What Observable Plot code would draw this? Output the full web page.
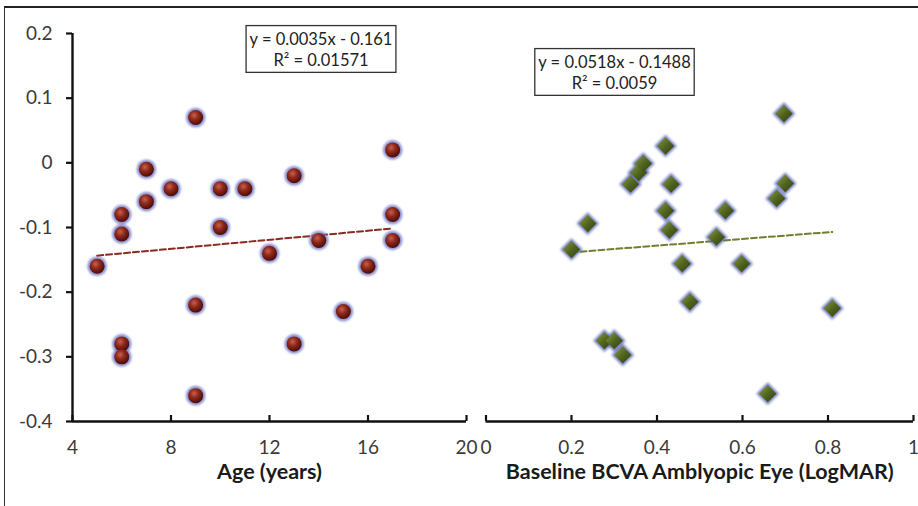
<!DOCTYPE html>
<html>
<head>
<meta charset="utf-8">
<script src="https://cdn.jsdelivr.net/npm/d3@7"></script>
<script src="https://cdn.jsdelivr.net/npm/@observablehq/plot@0.6"></script>
<style>
  html, body { margin: 0; padding: 0; background: #fff; }
  #wrap { position: relative; width: 918px; height: 506px; overflow: hidden; background: #fff; font-family: Lato, sans-serif; }
  #frame { position: absolute; left: 4px; top: 6px; right: -2px; bottom: -2px; border-top: 2px solid #222; border-left: 1px solid #333; pointer-events: none; }
  #left { position: absolute; left: 0; top: 0; }
  #right { position: absolute; left: 470px; top: 0; }
</style>
</head>
<body>
<div id="wrap">
  <div id="left"></div>
  <div id="right"></div>
  <div id="frame"></div>
</div>
<script>
// ---- data ----
const ages = [5, 6, 6, 6, 6, 7, 7, 8, 9, 9, 9, 10, 10, 11, 12, 13, 13, 14, 15, 16, 17, 17, 17];
const ageChange = [-0.16, -0.08, -0.11, -0.28, -0.30, -0.01, -0.06, -0.04, 0.07, -0.22, -0.36, -0.04, -0.10, -0.04, -0.14, -0.02, -0.28, -0.12, -0.23, -0.16, 0.02, -0.08, -0.12];

const bcva = [0.20, 0.238, 0.277, 0.30, 0.32, 0.338, 0.357, 0.368, 0.42, 0.42, 0.429, 0.433, 0.459, 0.477, 0.539, 0.56, 0.598, 0.659, 0.68, 0.697, 0.70, 0.81];
const bcvaChange = [-0.134, -0.094, -0.275, -0.275, -0.297, -0.033, -0.015, -0.001, 0.026, -0.074, -0.104, -0.033, -0.156, -0.215, -0.115, -0.074, -0.156, -0.357, -0.055, 0.076, -0.032, -0.225];

// trend lines (endpoints of the Excel linear trendlines)
const ageTrendX = [5, 17];
const ageTrendY = [-0.1435, -0.1015];
const bcvaTrendX = [0.20, 0.81];
const bcvaTrendY = [-0.1384, -0.1068];

const yDomain = [-0.4, 0.2];
const yTicks = [0.2, 0.1, 0, -0.1, -0.2, -0.3, -0.4];
const yTickLabels = ["0.2", "0.1", "0", "-0.1", "-0.2", "-0.3", "-0.4"];
const ageDomain = [4, 20];
const ageTicks = [4, 8, 12, 16, 20];
const ageTickLabels = ["4", "8", "12", "16", "20"];
const bcvaDomain = [0, 1];
const bcvaTicks = [0, 0.2, 0.4, 0.6, 0.8, 1];
const bcvaTickLabels = ["0", "0.2", "0.4", "0.6", "0.8", "1"];

const ageTitle = "Age (years)";
const bcvaTitle = "Baseline BCVA Amblyopic Eye (LogMAR)";
const ageEquation = ["y = 0.0035x - 0.161", "R\u00B2 = 0.01571"];
const bcvaEquation = ["y = 0.0518x - 0.1488", "R\u00B2 = 0.0059"];

// ---- helpers ----
const lab = (ticks, labels) => d => labels[ticks.indexOf(d)];
const ageData = ages.map((x, i) => ({x, y: ageChange[i]}));
const bcvaData = bcva.map((x, i) => ({x, y: bcvaChange[i]}));
const ageTrend = ageTrendX.map((x, i) => ({x, y: ageTrendY[i]}));
const bcvaTrend = bcvaTrendX.map((x, i) => ({x, y: bcvaTrendY[i]}));

const common = {
  height: 506,
  marginTop: 33,
  marginBottom: 85,
  style: {fontFamily: "Lato, sans-serif", color: "#111", background: "transparent", overflow: "visible"}
};

const tickFont = 19;

const leftPlot = Plot.plot({
  ...common,
  width: 470,
  marginLeft: 72,
  marginRight: 4,
  x: {domain: ageDomain},
  y: {domain: yDomain},
  marks: [
    Plot.axisY({ticks: yTicks, tickFormat: lab(yTicks, yTickLabels), tickSize: 6, tickPadding: 14, strokeWidth: 2.2, fontSize: tickFont, fill: "#3a3a3a", label: null}),
    Plot.axisX({ticks: ageTicks, tickFormat: lab(ageTicks, ageTickLabels), tickSize: -6, tickPadding: 25, strokeWidth: 2.2, fontSize: tickFont, fill: "#3a3a3a", label: null}),
    Plot.ruleX([ageDomain[0]], {y1: yDomain[0], y2: yDomain[1], strokeWidth: 2.4, stroke: "#111"}),
    Plot.ruleY([yDomain[0]], {x1: ageDomain[0], x2: ageDomain[1], strokeWidth: 2.4, stroke: "#111"}),
    Plot.line(ageTrend, {x: "x", y: "y", stroke: "#8b2a20", strokeWidth: 2, strokeDasharray: "6,3"}),
    Plot.dot(ageData, {x: "x", y: "y", r: 9.8, fill: "#6f78c8", fillOpacity: 0.8}),
    Plot.dot(ageData, {x: "x", y: "y", r: 7.5, fill: "url(#ballRed)"}),
    Plot.text([ageTitle], {frameAnchor: "bottom", dy: 57, fontSize: 21.5, fontWeight: "bold", fill: "#1a1a1a"}),
    Plot.text([ageEquation.join("\n")], {frameAnchor: "top-left", dx: 248.5, dy: 15, lineAnchor: "middle", fontSize: 16.5, lineHeight: 1.32, fill: "#222", textAnchor: "middle"})
  ]
});

const rightPlot = Plot.plot({
  ...common,
  width: 448,
  marginLeft: 15.5,
  marginRight: 5,
  x: {domain: bcvaDomain},
  y: {domain: yDomain, axis: null},
  marks: [
    Plot.axisX({ticks: bcvaTicks, tickFormat: lab(bcvaTicks, bcvaTickLabels), tickSize: -6, tickPadding: 25, strokeWidth: 2.2, fontSize: tickFont, fill: "#3a3a3a", label: null}),
    Plot.ruleY([yDomain[0]], {x1: bcvaDomain[0], x2: bcvaDomain[1], strokeWidth: 2.4, stroke: "#111"}),
    Plot.line(bcvaTrend, {x: "x", y: "y", stroke: "#6f7f2e", strokeWidth: 2, strokeDasharray: "6,3"}),
    Plot.dot(bcvaData, {x: "x", y: "y", symbol: "diamond2", r: 10.2, fill: "#5a67b4", fillOpacity: 0.8}),
    Plot.dot(bcvaData, {x: "x", y: "y", symbol: "diamond2", r: 7.8, fill: "url(#gemGreen)"}),
    Plot.text([bcvaTitle], {frameAnchor: "bottom", dy: 57, fontSize: 21.5, fontWeight: "bold", fill: "#1a1a1a"}),
    Plot.text([bcvaEquation.join("\n")], {frameAnchor: "top-left", dx: 128.5, dy: 38, lineAnchor: "middle", fontSize: 16.5, lineHeight: 1.32, fill: "#222", textAnchor: "middle"})
  ]
});

document.getElementById("left").appendChild(leftPlot);
document.getElementById("right").appendChild(rightPlot);

// gradients, halo blur and equation boxes
function decorate(svgNode) {
  const svg = d3.select(svgNode);
  const defs = svg.insert("defs", ":first-child");
  const rg = defs.append("radialGradient").attr("id", "ballRed").attr("cx", "40%").attr("cy", "35%").attr("r", "65%");
  rg.append("stop").attr("offset", "0%").attr("stop-color", "#c8604c");
  rg.append("stop").attr("offset", "45%").attr("stop-color", "#8e2a1c");
  rg.append("stop").attr("offset", "100%").attr("stop-color", "#4e0c06");
  const lg = defs.append("linearGradient").attr("id", "gemGreen").attr("x1", "0%").attr("y1", "0%").attr("x2", "100%").attr("y2", "100%");
  lg.append("stop").attr("offset", "0%").attr("stop-color", "#8a9c44");
  lg.append("stop").attr("offset", "50%").attr("stop-color", "#52651f");
  lg.append("stop").attr("offset", "100%").attr("stop-color", "#2f3c0c");
  const f = defs.append("filter").attr("id", "soft").attr("x", "-50%").attr("y", "-50%").attr("width", "200%").attr("height", "200%");
  f.append("feGaussianBlur").attr("stdDeviation", 1.1);
  // first dot layer is the halo
  const dotGroups = svgNode.querySelectorAll('g[aria-label="dot"]');
  if (dotGroups.length) d3.select(dotGroups[0]).attr("filter", "url(#soft)");
  // boxes around the equations
  svg.selectAll("text").filter(function() { return this.textContent.includes("R\u00B2"); }).each(function() {
    const b = this.getBBox();
    const parent = this.parentNode;
    d3.select(parent).insert("rect", () => this)
      .attr("transform", this.getAttribute("transform"))
      .attr("x", b.x - 3.5).attr("y", b.y - 3)
      .attr("width", b.width + 7).attr("height", b.height + 5)
      .attr("fill", "white").attr("stroke", "#333").attr("stroke-width", 1.3);
  });
}
decorate(leftPlot);
decorate(rightPlot);
</script>
</body>
</html>
